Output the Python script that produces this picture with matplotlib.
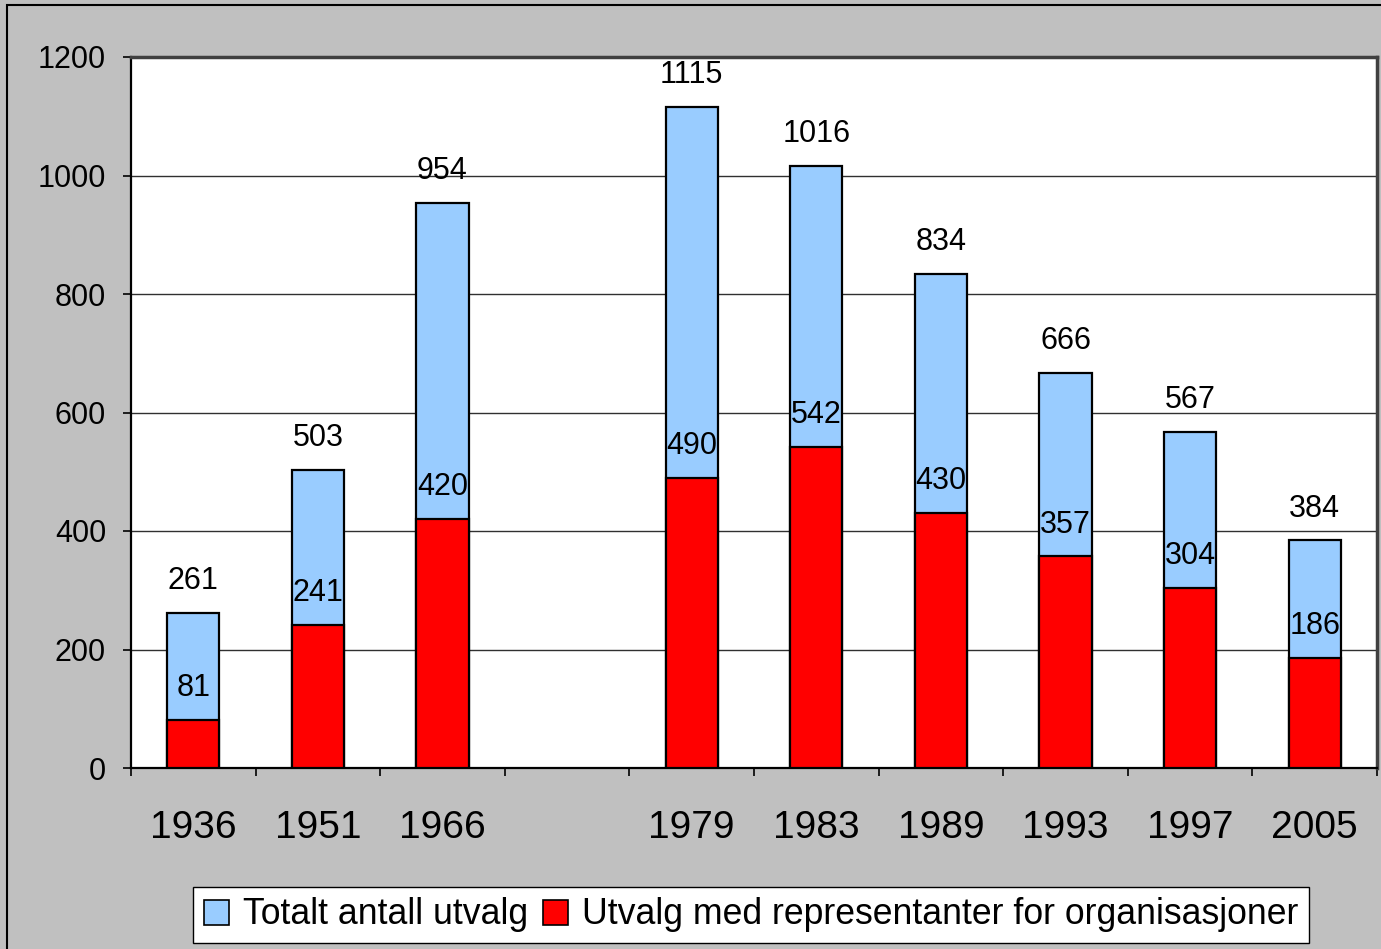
import matplotlib
matplotlib.use('Agg')
import matplotlib.pyplot as plt
from matplotlib.patches import Patch, Rectangle
import numpy as np

# categories, one slot left empty between 1966 and 1979
categories = ['1936', '1951', '1966', '', '1979', '1983', '1989', '1993', '1997', '2005']
totals = [261, 503, 954, None, 1115, 1016, 834, 666, 567, 384]
with_org = [81, 241, 420, None, 490, 542, 430, 357, 304, 186]
y_ticks = [0, 200, 400, 600, 800, 1000, 1200]

label_total = 'Totalt antall utvalg'
label_org = 'Utvalg med representanter for organisasjoner'

blue = '#99CCFF'
red = '#FF0000'
bg = '#C0C0C0'


def main():
    plt.rcParams['font.family'] = ['Liberation Sans', 'DejaVu Sans']

    fig = plt.figure(figsize=(13.81, 9.49), dpi=100, facecolor=bg)
    ax = fig.add_axes([131/1381, 1 - 768/949, 1246/1381, 711/949])
    ax.set_facecolor('white')

    # outer frame of the chart area
    fig.patches.append(Rectangle((7/1381, -0.02), 1.0, 1 - 5/949 + 0.02,
                                 transform=fig.transFigure, fill=False,
                                 edgecolor='black', linewidth=1.5))

    x = np.arange(len(categories))
    keep = [i for i, v in enumerate(totals) if v is not None]
    xs = x[keep]
    tot = [totals[i] for i in keep]
    org = [with_org[i] for i in keep]

    width = 0.42
    ax.bar(xs, tot, width, color=blue, edgecolor='black', linewidth=1.6, zorder=2)
    ax.bar(xs, org, width, color=red, edgecolor='black', linewidth=1.6, zorder=3)

    for xi, t, o in zip(xs, tot, org):
        ax.annotate(str(t), (xi, t), xytext=(0, 23), textcoords='offset points',
                    ha='center', va='center', fontsize=22, zorder=5)
        ax.annotate(str(o), (xi, o), xytext=(0, 23), textcoords='offset points',
                    ha='center', va='center', fontsize=22, zorder=5)

    ax.set_xlim(-0.5, len(categories) - 0.5)
    ax.set_ylim(0, 1200)
    ax.set_yticks(y_ticks)
    ax.set_xticks(x)
    ax.set_xticklabels(categories)
    ax.set_xticks(np.arange(-0.5, len(categories), 1.0), minor=True)

    ax.yaxis.grid(True, color='#303030', linewidth=1.0, zorder=0)
    ax.set_axisbelow(True)

    ax.tick_params(axis='y', direction='out', length=6, width=1.2,
                   labelsize=22, pad=12)
    ax.tick_params(axis='x', which='major', length=0, labelsize=28, pad=30)
    ax.tick_params(axis='x', which='minor', direction='out', length=6, width=1.2)

    for side in ['left', 'bottom']:
        ax.spines[side].set_color('black')
        ax.spines[side].set_linewidth(1.6)
    for side in ['top', 'right']:
        ax.spines[side].set_color('#404040')
        ax.spines[side].set_linewidth(2.5)

    handles = [Patch(facecolor=blue, edgecolor='black', linewidth=1.2),
               Patch(facecolor=red, edgecolor='black', linewidth=1.2)]
    leg = fig.legend(handles, [label_total, label_org], ncol=2, loc='center',
                     bbox_to_anchor=(751/1381, 1 - 915/949), fontsize=25.7,
                     frameon=True, fancybox=False, framealpha=1,
                     handlelength=0.7, handleheight=0.7, handletextpad=0.4,
                     columnspacing=0.4, borderpad=0.3, borderaxespad=0)
    leg.get_frame().set_edgecolor('black')
    leg.get_frame().set_linewidth(1.0)
    leg.get_frame().set_facecolor('white')

    fig.savefig('out.png', dpi=100, facecolor=bg)


if __name__ == "__main__":
    main()
